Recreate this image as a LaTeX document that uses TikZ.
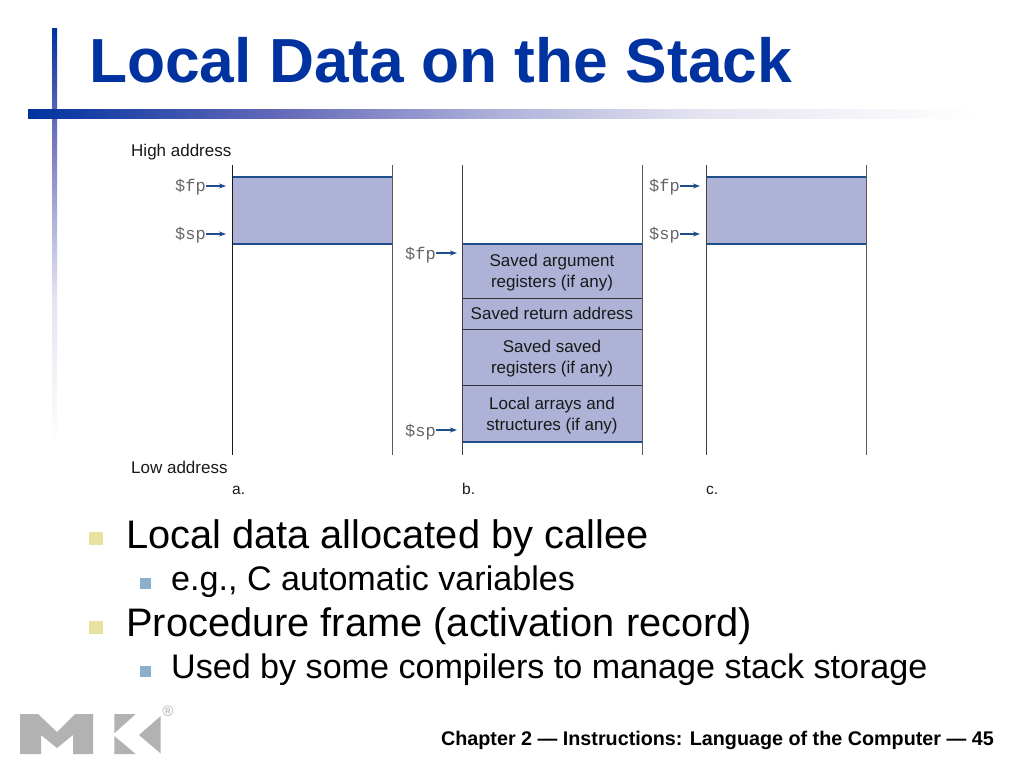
\documentclass[tikz,border=0pt]{standalone}
\usepackage{fontspec}
\setmainfont{Liberation Sans}
\setmonofont{Liberation Mono}
\usetikzlibrary{arrows.meta}
\definecolor{titleblue}{RGB}{0,51,160}
\definecolor{framefill}{RGB}{174,178,214}
\definecolor{edgeblue}{RGB}{31,78,140}
\definecolor{logogray}{RGB}{178,178,178}
\definecolor{barA}{RGB}{100,105,185}
\definecolor{barB}{RGB}{175,178,218}
\definecolor{barC}{RGB}{228,228,242}
\pgfdeclarehorizontalshading{hbar}{100bp}{color(0bp)=(titleblue); color(25bp)=(titleblue); color(38.3bp)=(barA); color(50bp)=(barB); color(60.5bp)=(barC); color(75bp)=(white); color(100bp)=(white)}
\pgfdeclareverticalshading{vbar}{100bp}{color(0bp)=(white); color(25bp)=(white); color(42.5bp)=(barC); color(52bp)=(barB); color(64bp)=(barA); color(75bp)=(titleblue); color(100bp)=(titleblue)}
\newcommand{\fsize}[1]{\fontsize{#1}{#1}\selectfont}
\newcommand{\lowerline}{\rule{0pt}{16pt}}
\tikzset{
  txt/.style={inner sep=0pt, anchor=base west},
  cell/.style={fill=framefill, inner sep=0pt, minimum width=180pt, align=center,
    font=\fsize{17}, text=black!90},
  reg/.style={inner sep=0pt, anchor=base west, font=\ttfamily\fsize{17}, text=black!60},
  ptr/.style={edgeblue, line width=1.1pt, -{Stealth[length=7pt,width=5pt]}},
  rail/.style={line width=1pt},
  edge/.style={line width=2.2pt, edgeblue},
  divider/.style={line width=1pt, black!80},
  bigbullet/.style={fill={rgb,255:red,230;green,227;blue,160}, inner sep=0pt, minimum size=13.5pt},
  smallbullet/.style={fill={rgb,255:red,140;green,176;blue,204}, inner sep=0pt, minimum size=11pt}
}
\begin{document}
\begin{tikzpicture}[x=1pt,y=-1pt]
\useasboundingbox (0,0) rectangle (1024,768);

% title bars
\path[shading=vbar] (52,29) rectangle (57,445);
\path[shading=hbar] (28,109) rectangle (975,118);
\node[txt, text=titleblue, font=\bfseries\fsize{62.3}] (title) at (89,82) {Local Data on the Stack};

% diagram labels
\node[txt, font=\fsize{17}, text=black!90] (high) at (131,156) {High address};
\node[txt, font=\fsize{17}, text=black!90] (low) at (131,473) {Low address};

% frames a and c
\foreach \n/\x in {a/232,c/706}
{	\path[fill=framefill] (\x,177) rectangle (\x+160,244);
	\coordinate (tl\n) at (\x,177);
	\coordinate (tr\n) at (\x+160,177);
	\coordinate (bl\n) at (\x,244);
	\coordinate (br\n) at (\x+160,244);
	\draw[edge] (tl\n)--(tr\n);
	\draw[edge] (bl\n)--(br\n);
	\node[reg] (fp\n) at (\x-57,191) {\$fp};
	\node[reg] (sp\n) at (\x-57,239) {\$sp};
	\coordinate (fpend\n) at (\x-6,186);
	\coordinate (spend\n) at (\x-6,234);
	\draw[ptr] (fp\n.east |- fpend\n)--(fpend\n);
	\draw[ptr] (sp\n.east |- spend\n)--(spend\n);
	\node[txt, font=\fsize{15.5}, text=black!90] (lab\n) at (\x,494) {\n.};
}

% frame b
\node[cell, minimum height=54pt] (args) at (552,271) {\lowerline Saved argument\\[4pt]registers (if any)};
\node[cell, minimum height=31pt] (ret) at (552,313.5) {Saved return address};
\node[cell, minimum height=56pt] (saved) at (552,357) {\lowerline Saved saved\\[4pt]registers (if any)};
\node[cell, minimum height=57pt] (arrays) at (552,413.5) {\lowerline Local arrays and\\[4pt]structures (if any)};
\draw[edge] (args.north west)--(args.north east);
\draw[divider] (args.south west)--(args.south east);
\draw[divider] (ret.south west)--(ret.south east);
\draw[divider] (saved.south west)--(saved.south east);
\draw[edge] (arrays.south west)--(arrays.south east);
\node[reg] (fpb) at (405,259) {\$fp};
\node[reg] (spb) at (405,436) {\$sp};
\coordinate (fpendb) at (457,253);
\coordinate (spendb) at (457,430);
\draw[ptr] (fpb.east |- fpendb)--(fpendb);
\draw[ptr] (spb.east |- spendb)--(spendb);
\node[txt, font=\fsize{15.5}, text=black!90] (labb) at (462,494) {b.};

% stack rails
\foreach \x/\k in {232/90,392/65,462/75,642/65,706/75,866/65}
{	\coordinate (top\x) at (\x,165);
	\coordinate (bot\x) at (\x,455);
	\draw[rail, black!\k] (top\x)--(bot\x);
}

% bullets
\node[bigbullet] (b1) at (96,538.5) {};
\node[bigbullet] (b2) at (96,627.5) {};
\node[smallbullet] (b3) at (145.5,583.5) {};
\node[smallbullet] (b4) at (145.5,671.5) {};
\node[txt, font=\fsize{39.8}] (l1) at (126,548) {Local data allocated by callee};
\node[txt, font=\fsize{34.1}] (l2) at (171,590) {e.g., C automatic variables};
\node[txt, font=\fsize{39.8}] (l3) at (126,636) {Procedure frame (activation record)};
\node[txt, font=\fsize{34.1}] (l4) at (171,678) {Used by some compilers to manage stack storage};

% logo
\fill[logogray] (20,714)--(38,714)--(57,732)--(75,714)--(93,714)--(93,754)--(73,754)--(73,735)--(57,748)--(41,735)--(41,754)--(20,754)--cycle;
\fill[logogray] (114.3,714)--(135.7,714)--(114.3,733.3)--cycle;
\fill[logogray] (114.3,736)--(135.7,754)--(114.3,754)--cycle;
\fill[logogray] (160.7,716)--(160.7,753.5)--(139,735)--cycle;
\node[inner sep=0pt, font=\fsize{15}, text=logogray] (reg) at (168,711) {®};

% footer
\node[inner sep=0pt, anchor=base east, font=\bfseries\fsize{19.75}] (foot) at (994,745) {Chapter 2 — Instructions: Language of the Computer — 45};
\end{tikzpicture}
\end{document}
